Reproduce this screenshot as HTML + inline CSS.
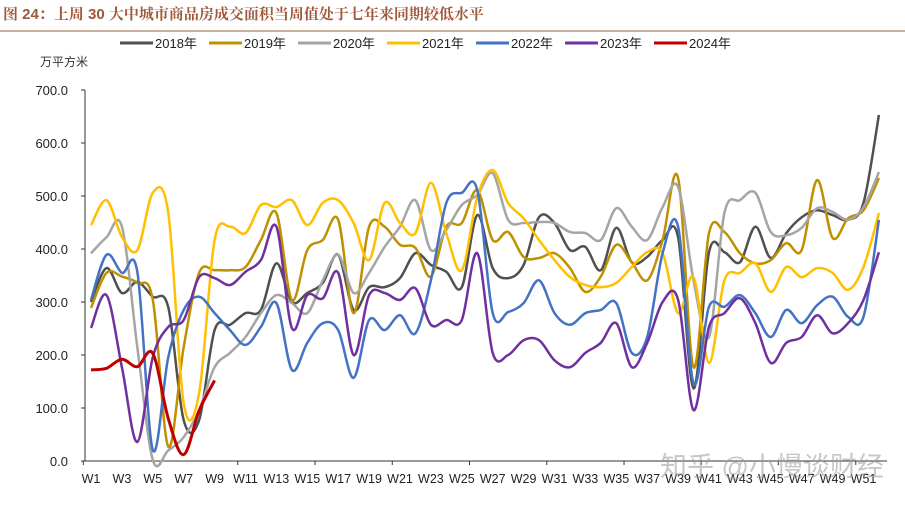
<!DOCTYPE html>
<html><head><meta charset="utf-8">
<style>
html,body{margin:0;padding:0;background:#fff;}
body{width:905px;height:505px;overflow:hidden;font-family:"Liberation Sans","Noto Sans CJK SC",sans-serif;}
</style></head>
<body>
<svg id="chart" width="905" height="505" xmlns="http://www.w3.org/2000/svg" style="position:absolute;left:0;top:0">
  <text x="3" y="19" font-size="15" font-weight="bold" fill="#A0583A" font-family="Liberation Sans, Noto Serif CJK SC, sans-serif">图 24：上周 30 大中城市商品房成交面积当周值处于七年来同期较低水平</text>
  <line x1="0" y1="31" x2="905" y2="31" stroke="#B8957A" stroke-width="1.5"/>
  <text x="40" y="66" font-size="12" fill="#333">万平方米</text>
  <g id="legend"></g>
  <g id="axes"></g>
  <g id="series"></g>
  <text x="660" y="476" font-size="27" fill="#999" fill-opacity="0.55">知乎 @小慢谈财经</text>
</svg>
<script>
const years = ["2018年","2019年","2020年","2021年","2022年","2023年","2024年"];
const colors = ["#505050","#BF9000","#A5A5A5","#FFC000","#4472C4","#7030A0","#C00000"];
const yTicks = [0,100,200,300,400,500,600,700];
const s2018 = [300,364,317,338,310,290,77,77,247,257,279,285,373,300,317,336,389,285,328,328,345,392,370,357,328,464,364,345,370,460,449,398,404,360,440,375,385,417,422,137,394,394,375,442,383,430,460,473,464,455,487,653];
const s2019 = [289,355,348,336,304,27,215,355,360,360,366,417,468,304,398,417,455,279,442,442,408,402,348,442,449,511,417,432,385,383,392,364,319,348,408,375,341,417,534,177,430,432,392,373,379,411,398,530,421,458,473,534];
const s2020 = [392,422,442,215,2,20,45,96,177,204,234,279,313,298,279,341,389,317,355,404,442,492,398,436,483,502,543,455,449,451,449,432,430,417,477,442,417,479,517,341,234,468,492,506,432,426,440,477,470,455,479,545];
const s2021 = [445,492,423,398,506,468,109,128,417,442,430,483,479,492,445,487,492,449,379,487,449,430,525,430,360,498,549,487,458,417,379,347,332,328,336,366,394,392,279,347,185,341,355,373,319,366,347,364,355,323,366,468];
const s2022 = [304,389,355,357,21,196,285,310,279,247,219,253,298,172,223,260,247,157,266,247,275,241,341,487,506,511,279,281,298,341,279,257,279,285,298,204,234,392,442,147,291,291,313,279,234,285,260,294,310,272,272,455];
const s2023 = [251,313,177,36,196,253,266,347,345,332,357,379,442,251,313,307,355,200,313,317,304,326,257,266,266,392,204,200,228,228,190,177,204,223,260,177,223,300,304,96,253,279,307,260,185,223,234,275,241,260,304,394];
const s2024 = [172,175,192,178,203,80,12,95,152];
const allSeries = [s2018,s2019,s2020,s2021,s2022,s2023,s2024];

const NS="http://www.w3.org/2000/svg";
const X0=91, DX=15.45, Y0=461, PY=0.53;
const xOf = i => X0 + DX*i;
const yOf = v => Y0 - v*PY;
function mk(tag, attrs, parent){const e=document.createElementNS(NS,tag);for(const k in attrs)e.setAttribute(k,attrs[k]);parent.appendChild(e);return e;}

const axes=document.getElementById('axes');
const ax=mk('line',{x1:85,y1:yOf(700),x2:85,y2:Y0,stroke:'#333','stroke-width':1},axes);


const bx=mk('line',{x1:85,y1:Y0,x2:X0+DX*51+8,y2:Y0,stroke:'#333','stroke-width':1},axes);


yTicks.forEach(v=>{
  const t=mk('line',{x1:81,y1:yOf(v),x2:85,y2:yOf(v),stroke:'#333'},axes);
  
  
  const l=mk('text',{x:68,y:yOf(v)+5,'text-anchor':'end','font-size':13,fill:'#222'},axes);
  l.textContent=v.toFixed(1);
  
  
});
for(let i=0;i<=52;i+=5){
  const xx=X0-DX/2+DX*i;
  const t=mk('line',{x1:xx,y1:Y0,x2:xx,y2:Y0+4,stroke:'#333'},axes);
  
  
}
for(let i=0;i<52;i+=2){
  const l=mk('text',{x:xOf(i),y:483,'text-anchor':'middle','font-size':12.5,fill:'#222'},axes);
  l.textContent='W'+(i+1);
  
  
}

const leg=document.getElementById('legend');
years.forEach((y,i)=>{
  const lx=120+i*89;
  const ln=mk('line',{x1:lx,y1:43,x2:lx+33,y2:43,stroke:colors[i],'stroke-width':3},leg);
  
  
  const tx=mk('text',{x:lx+35,y:48,'font-size':13,fill:'#222'},leg);
  tx.textContent=y;
  
  
});

function smoothPath(vals){
  const p=vals.map((v,i)=>[xOf(i),yOf(v)]);
  let d='M'+p[0][0]+','+p[0][1];
  for(let i=0;i<p.length-1;i++){
    const p0=p[Math.max(0,i-1)],p1=p[i],p2=p[i+1],p3=p[Math.min(p.length-1,i+2)];
    const c1=[p1[0]+(p2[0]-p0[0])/6,p1[1]+(p2[1]-p0[1])/6];
    const c2=[p2[0]-(p3[0]-p1[0])/6,p2[1]-(p3[1]-p1[1])/6];
    d+=' C'+c1[0].toFixed(1)+','+c1[1].toFixed(1)+' '+c2[0].toFixed(1)+','+c2[1].toFixed(1)+' '+p2[0].toFixed(1)+','+p2[1].toFixed(1);
  }
  return d;
}
const sg=document.getElementById('series');
allSeries.forEach((s,i)=>{
  const path=mk('path',{d:smoothPath(s),fill:'none',stroke:colors[i],'stroke-width':i===6?3:2.5,'stroke-linejoin':'round'},sg);
  
  
});
</script>
</body></html>
